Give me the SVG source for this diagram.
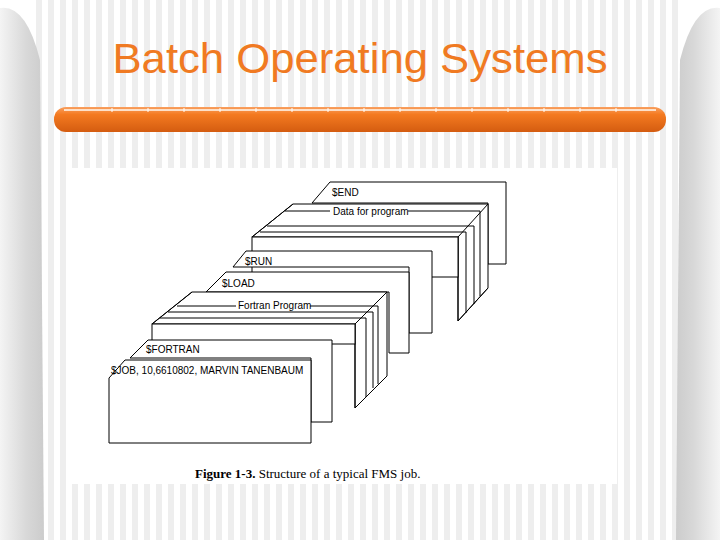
<svg xmlns="http://www.w3.org/2000/svg" width="720" height="540" viewBox="0 0 720 540">
<defs>
<pattern id="stripes" x="0" y="0" width="12" height="540" patternUnits="userSpaceOnUse">
<rect x="0" y="0" width="6" height="540" fill="#eeeeee"/>
</pattern>
<linearGradient id="pillarL" x1="0" y1="0" x2="1" y2="0">
<stop offset="0" stop-color="#f4f4f4"/><stop offset="0.6" stop-color="#d8d8d8"/><stop offset="1" stop-color="#cccccc"/>
</linearGradient>
<linearGradient id="pillarR" x1="1" y1="0" x2="0" y2="0">
<stop offset="0" stop-color="#f4f4f4"/><stop offset="0.6" stop-color="#d8d8d8"/><stop offset="1" stop-color="#cccccc"/>
</linearGradient>
<linearGradient id="bar" x1="0" y1="0" x2="0" y2="1">
<stop offset="0" stop-color="#f9a060"/><stop offset="0.3" stop-color="#f47a20"/><stop offset="1" stop-color="#d45c10"/>
</linearGradient>
<style>
.ln{fill:none;stroke:#000;stroke-width:1}
.card{fill:#fff;stroke:#000;stroke-width:1}
.lbl{font-family:"Liberation Sans",Arial,sans-serif;font-size:10px;fill:#000}
</style>
</defs>
<rect width="720" height="540" fill="#fff"/>
<rect x="36" y="0" width="648" height="540" fill="url(#stripes)"/>
<path d="M0,8 Q26,4 40,60 L44,540 L0,540 Z" fill="url(#pillarL)"/>
<path d="M720,8 Q694,4 680,60 L676,540 L720,540 Z" fill="url(#pillarR)"/>
<text x="360" y="73" text-anchor="middle" font-family="Liberation Sans,Arial,sans-serif" font-size="43" fill="#f07a22" textLength="495" lengthAdjust="spacingAndGlyphs">Batch Operating Systems</text>
<g id="bar">
<rect x="54" y="107" width="612" height="25" rx="12" fill="url(#bar)"/>
<line x1="64" y1="110" x2="656" y2="110" stroke="#fde0c8" stroke-width="2"/>
<path d="M112,108v4M148,108v4M184,108v4M220,108v4M256,108v4M292,108v4M328,108v4M364,108v4M400,108v4M436,108v4M472,108v4M508,108v4M544,108v4M580,108v4M616,108v4" stroke="#fff" stroke-width="1"/>
</g>
<rect x="72" y="168" width="545" height="316" fill="#fff"/>

<g id="end-card">
<polygon class="card" points="312,203 330,182 506,182 506,264 488,264 488,203"/>
<text class="lbl" x="332" y="196">$END</text>
</g>
<g id="data-deck">
<polygon class="card" points="252,237 293,204 488,204 488,288 458,321 458,237"/>
<path class="ln" d="M252,237L293,204M458,237L488,204M458,321L488,288M458,237V321"/>
<path class="ln" d="M285,211H330M408,211H480V296M267,226H474V304M260,232H466V313"/>
<text class="lbl" x="333" y="215">Data for program</text>
<rect x="252" y="237" width="206" height="40" fill="#fff" stroke="#000"/>
</g>
<g id="run-card">
<polygon class="card" points="233,267 246,251 432,251 432,333 409,333 409,267"/>
<text class="lbl" x="245" y="265">$RUN</text>
</g>
<g id="load-card">
<polygon class="card" points="206,292 226,272 409,272 409,353 389,353 389,292"/>
<text class="lbl" x="222" y="287">$LOAD</text>
</g>
<g id="fortran-deck">
<polygon class="card" points="152,324 192,292 387,292 387,376 355,408 355,324"/>
<path class="ln" d="M152,324L192,292M355,324L387,292M355,408L387,376M355,324V408"/>
<path class="ln" d="M177,306H236M310,306H378V384M168,312H373V388M160,318H366V397"/>
<text class="lbl" x="238" y="309">Fortran Program</text>
<rect x="152" y="324" width="203" height="20" fill="#fff" stroke="#000"/>
</g>
<g id="fortran-card">
<polygon class="card" points="130,358 148,340 332,340 332,422 311,422 311,358"/>
<text class="lbl" x="146" y="353">$FORTRAN</text>
</g>
<g id="job-card">
<polygon class="card" points="109,378 125,360 311,360 311,443 109,443"/>
<text class="lbl" x="111" y="374">$JOB, 10,6610802, MARVIN TANENBAUM</text>
</g>
<g id="connectors"></g>
<text x="195" y="478" font-family="Liberation Serif,Times New Roman,serif" font-size="13" fill="#000"><tspan font-weight="bold">Figure 1-3.</tspan>  Structure of a typical FMS job.</text>
</svg>
